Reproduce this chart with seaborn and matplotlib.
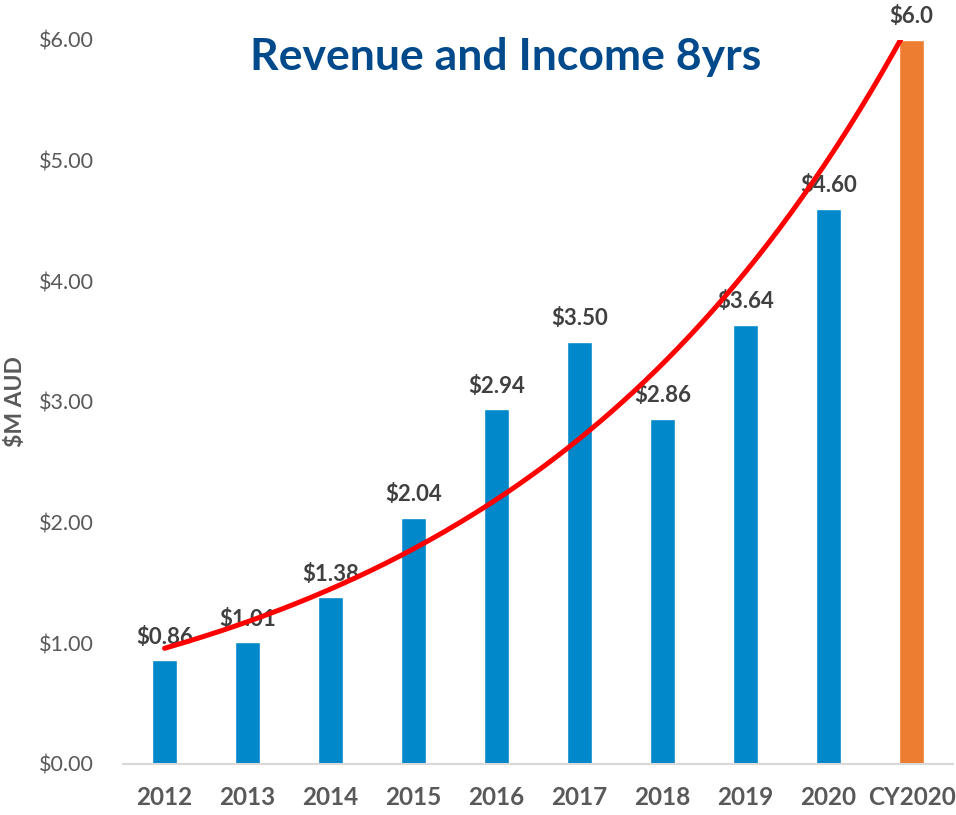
#!/usr/bin/env python3
# Revenue and Income 8yrs - bar chart with exponential trend line

import numpy as np
import pandas as pd
import seaborn as sns
import matplotlib.pyplot as plt

# # DATA

years = ["2012", "2013", "2014", "2015", "2016", "2017", "2018", "2019", "2020", "CY2020"]
revenue = [0.86, 1.01, 1.38, 2.04, 2.94, 3.50, 2.86, 3.64, 4.60, 6.0]
value_labels = ["$0.86", "$1.01", "$1.38", "$2.04", "$2.94", "$3.50", "$2.86", "$3.64", "$4.60", "$6.0"]
y_ticks = [0, 1, 2, 3, 4, 5, 6]
y_tick_labels = ["$0.00", "$1.00", "$2.00", "$3.00", "$4.00", "$5.00", "$6.00"]

blue = "#0088CA"
orange = "#ED7D31"
grey = "#595959"
label_grey = "#404040"

# # BUILD TABLE

df = pd.DataFrame({"year": years, "revenue": revenue})
palette = {y: blue for y in years}
palette["CY2020"] = orange

# # PLOT

sns.set_theme(style="white")
plt.rcParams["font.family"] = ["Lato", "DejaVu Sans"]

fig = plt.figure(figsize=(9.56, 8.15), dpi=100)
ax = fig.add_axes([0.1287, 0.0626, 0.8683, 0.8884])

sns.barplot(data=df, x="year", y="revenue", hue="year", palette=palette,
            width=0.31, legend=False, saturation=1, ax=ax)

# value labels on top of bars
for container, lab in zip(ax.containers, value_labels):
    ax.bar_label(container, labels=[lab], padding=9, fontsize=16,
                 fontweight="bold", color=label_grey)

# exponential trend line (same as a spreadsheet "exponential" trendline)
idx = np.arange(len(revenue))
b, a = np.polyfit(idx, np.log(revenue), 1)
xs = np.linspace(0, len(revenue) - 1, 200)
ax.plot(xs, np.exp(a) * np.exp(b * xs), color="#FF0000", lw=3.6,
        solid_capstyle="round", zorder=5)

ax.set_ylim(0, 6)
ax.set_xlim(-0.5, len(years) - 0.5)
ax.set_yticks(y_ticks)
ax.set_yticklabels(y_tick_labels, fontsize=15.5, color=grey)
ax.tick_params(axis="y", pad=21, length=0)
ax.tick_params(axis="x", pad=16, length=0)
for t in ax.get_xticklabels():
    t.set_fontsize(17.5)
    t.set_fontweight("bold")
    t.set_color(grey)

ax.set_xlabel("")
ax.set_ylabel("$M AUD", fontsize=16.5, fontweight="bold", color=grey)
ax.yaxis.set_label_coords(-0.117, 0.5)

sns.despine(ax=ax, left=True)
ax.spines["bottom"].set_color("#D9D9D9")
ax.spines["bottom"].set_linewidth(1.5)
ax.grid(False)

ax.text(0.461, 0.976, "Revenue and Income 8yrs", transform=ax.transAxes,
        ha="center", va="center", fontsize=32, fontweight="bold", color="#004A8B")

plt.savefig("out.png", dpi=100)
plt.close()
